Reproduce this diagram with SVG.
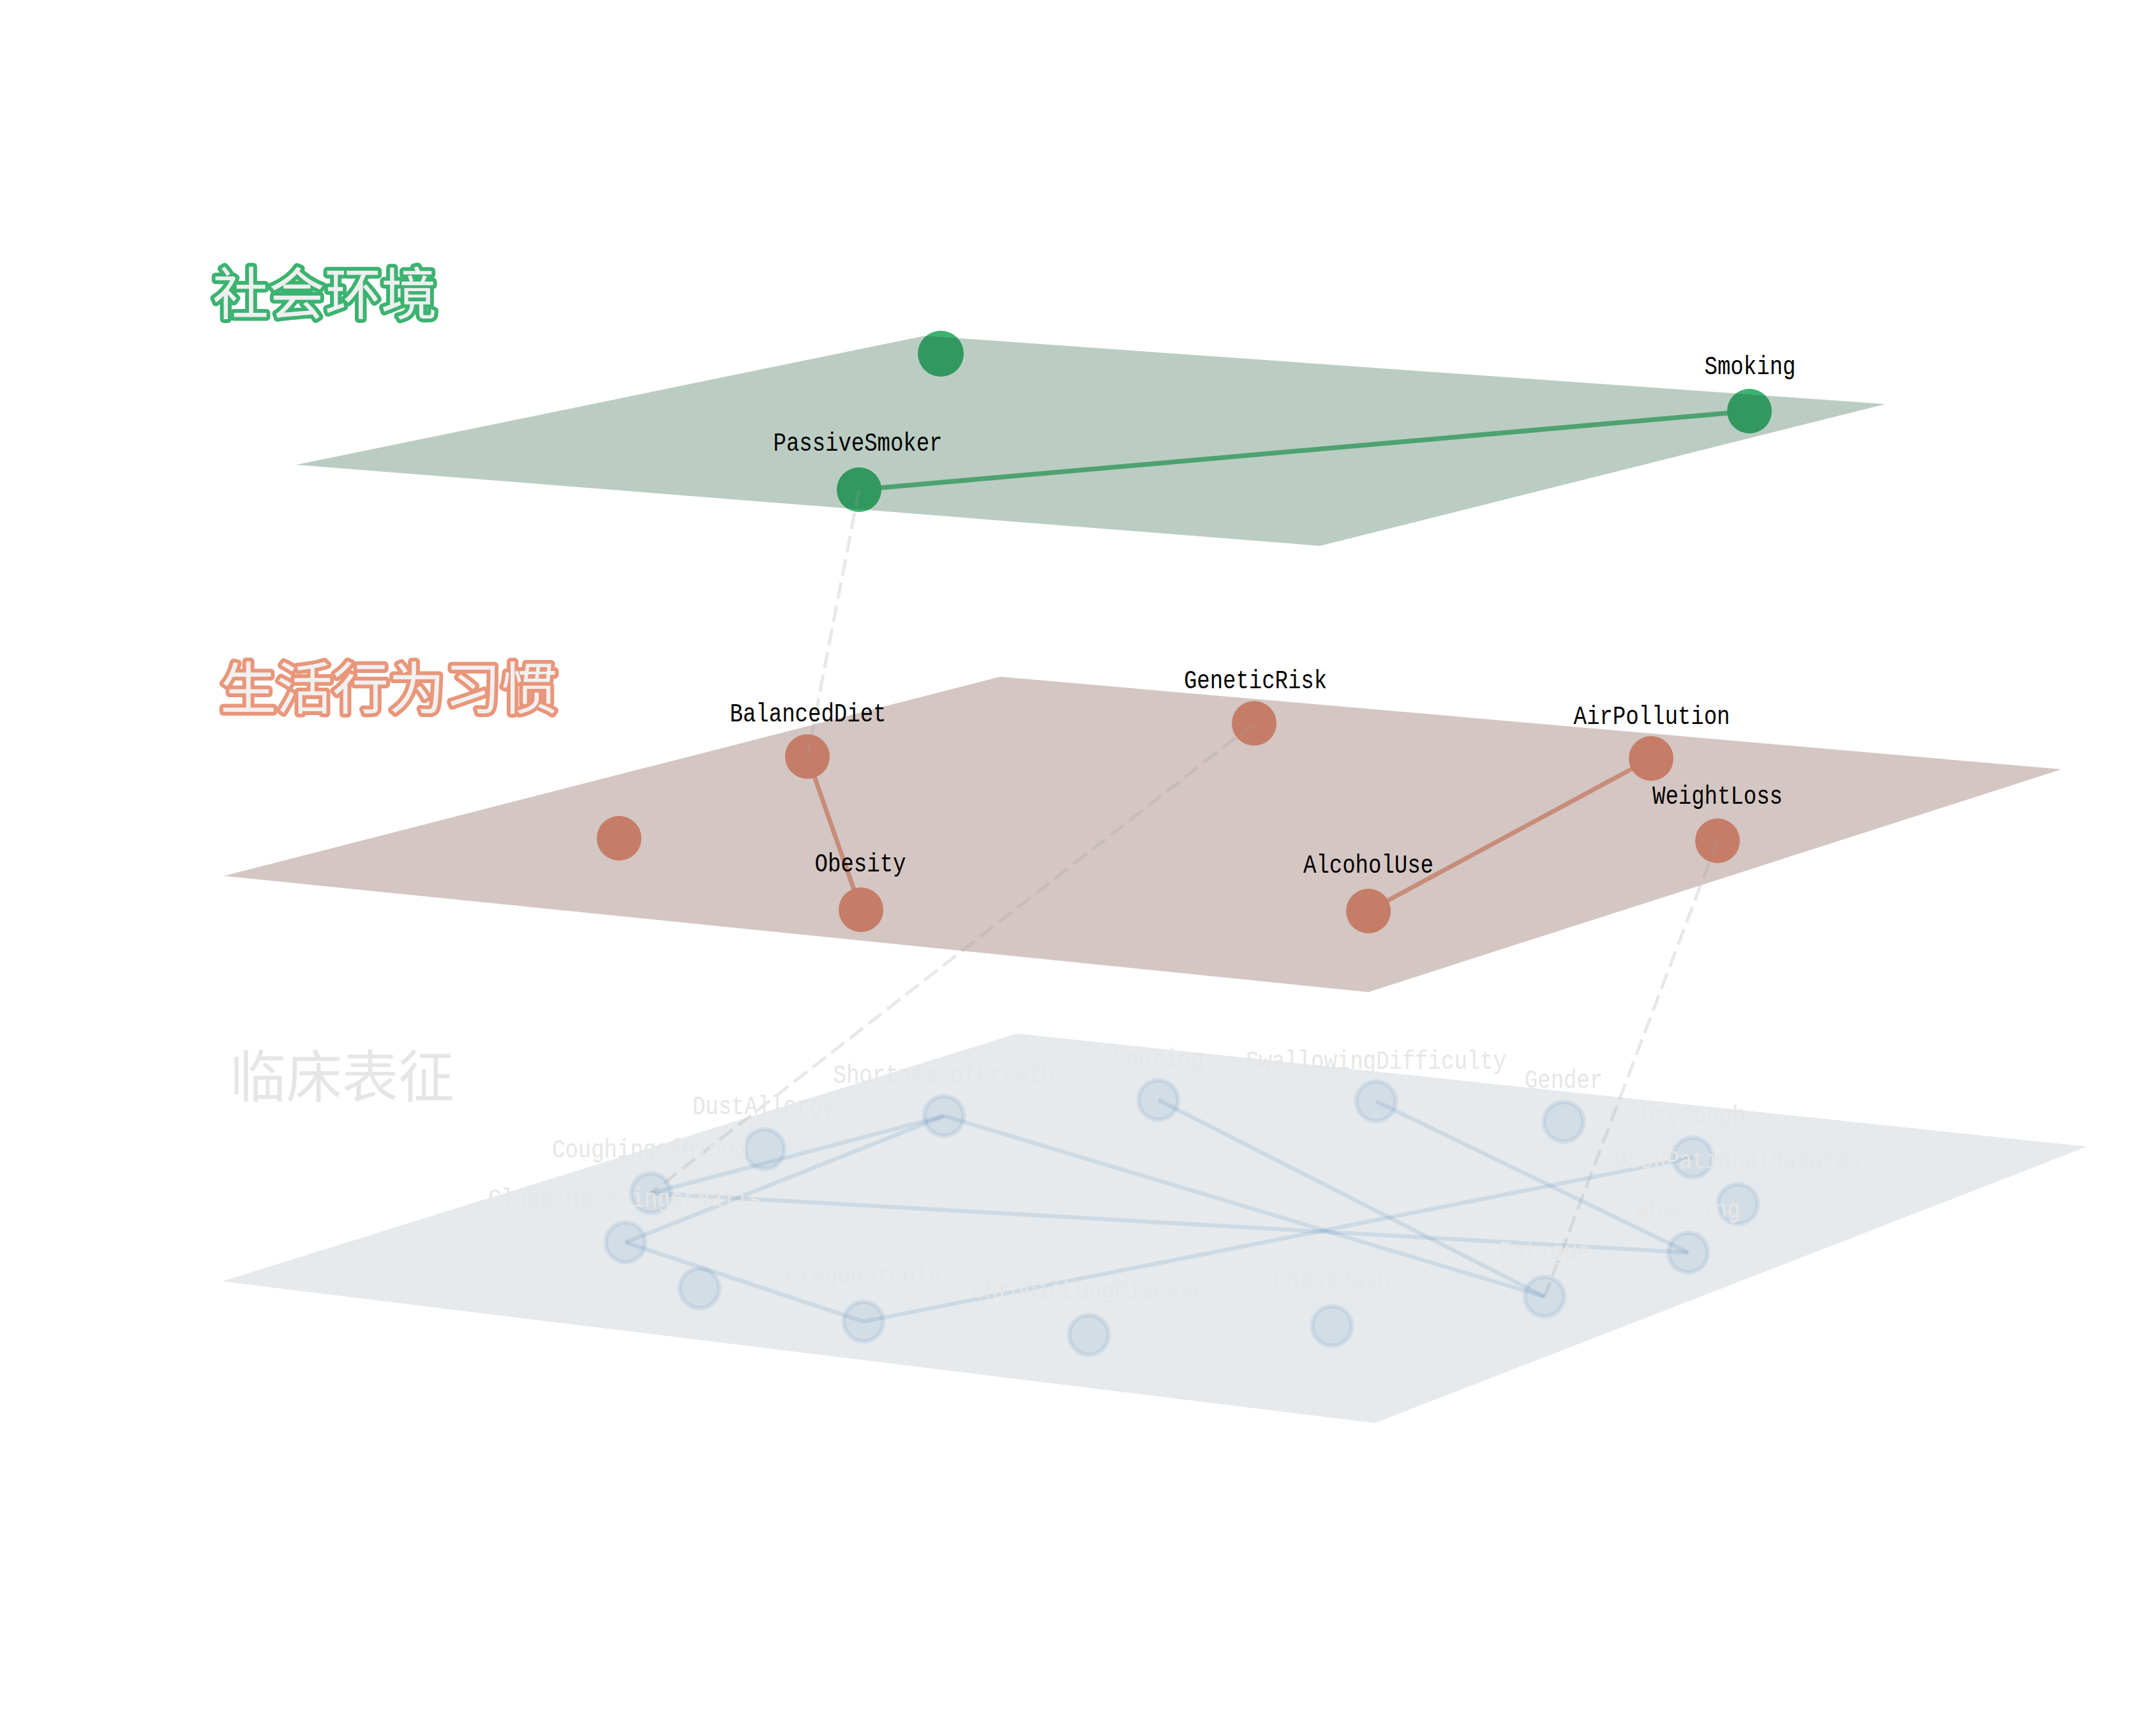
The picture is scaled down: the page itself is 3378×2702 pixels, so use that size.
<svg xmlns="http://www.w3.org/2000/svg" width="3378" height="2702" viewBox="0 0 3378 2702">
<style>
.title{font-family:"Noto Sans CJK SC","Noto Sans",sans-serif;font-size:88px;paint-order:stroke fill;stroke-linejoin:round}
.lbl{font-family:"Liberation Mono","DejaVu Sans Mono",monospace;font-size:40px;text-anchor:middle;fill:#000000}
.lbl3{font-family:"Liberation Mono","DejaVu Sans Mono",monospace;font-size:40px;text-anchor:middle;fill:#e6e6e6}
.n1{fill:#3cb371}
.n2{fill:#e9967a}
.n3{fill:#4682b4;fill-opacity:0.12;stroke:#4682b4;stroke-opacity:0.12;stroke-width:7}
.e1{stroke:#3cb371;stroke-opacity:0.8;stroke-width:7.5;fill:none}
.e2{stroke:#e9967a;stroke-opacity:0.8;stroke-width:7;fill:none}
.e3{stroke:#4682b4;stroke-opacity:0.15;stroke-width:6.5;fill:none}
.dash{stroke:#9f9f9f;stroke-opacity:0.24;stroke-width:5;stroke-dasharray:26 11;fill:none}
</style>
<rect x="0" y="0" width="3378" height="2702" fill="#ffffff"/>

<!-- bottom layer plane -->
<g id="plane-clinical">
<polygon points="348,2007 1593,1619 3270,1796 2154,2229" fill="#e6eaed"/>
</g>
<g id="nodes-clinical">
<g id="node-DustAllergy"><circle class="n3" cx="1198" cy="1800" r="31"/></g>
<g id="node-CoughingofBlood"><circle class="n3" cx="1020" cy="1869" r="31"/></g>
<g id="node-ClubbingofFingerNails"><circle class="n3" cx="980" cy="1946" r="31"/></g>
<g id="node-clinical-unlabeled"><circle class="n3" cx="1096" cy="2018" r="31"/></g>
<g id="node-FrequentCold"><circle class="n3" cx="1353" cy="2070" r="31"/></g>
<g id="node-ShortnessofBreath"><circle class="n3" cx="1479" cy="1748" r="31"/></g>
<g id="node-Snoring"><circle class="n3" cx="1815" cy="1723" r="31"/></g>
<g id="node-chronicLungDisease"><circle class="n3" cx="1706" cy="2091" r="31"/></g>
<g id="node-ChestPain"><circle class="n3" cx="2087" cy="2077" r="31"/></g>
<g id="node-SwallowingDifficulty"><circle class="n3" cx="2156" cy="1725" r="31"/></g>
<g id="node-Gender"><circle class="n3" cx="2450" cy="1757" r="31"/></g>
<g id="node-DryCough"><circle class="n3" cx="2652" cy="1813" r="31"/></g>
<g id="node-OccuPationalHazards"><circle class="n3" cx="2723" cy="1886" r="31"/></g>
<g id="node-Wheezing"><circle class="n3" cx="2645" cy="1962" r="31"/></g>
<g id="node-Fatigue"><circle class="n3" cx="2420" cy="2031" r="31"/></g>
</g>

<g id="connectors">
<g id="edges-clinical">
<line class="e3" x1="1020" y1="1869" x2="1479" y2="1748"/>
<line class="e3" x1="980" y1="1946" x2="1479" y2="1748"/>
<line class="e3" x1="1020" y1="1869" x2="2645" y2="1962"/>
<line class="e3" x1="980" y1="1946" x2="1353" y2="2070"/>
<line class="e3" x1="1353" y1="2070" x2="2652" y2="1813"/>
<line class="e3" x1="1479" y1="1748" x2="2420" y2="2031"/>
<line class="e3" x1="1815" y1="1723" x2="2420" y2="2031"/>
<line class="e3" x1="2156" y1="1725" x2="2645" y2="1962"/>
</g>
<g id="edges-lifestyle">
<line class="e2" x1="1265" y1="1185" x2="1349" y2="1425"/>
<line class="e2" x1="2144" y1="1427" x2="2587" y2="1188"/>
</g>
<g id="edges-social">
<line class="e1" x1="1346" y1="767" x2="2741" y2="644"/>
</g>
</g>

<g id="nodes-lifestyle">
<g id="node-BalancedDiet"><circle class="n2" cx="1265" cy="1185" r="35"/></g>
<g id="node-lifestyle-unlabeled"><circle class="n2" cx="970" cy="1313" r="35"/></g>
<g id="node-Obesity"><circle class="n2" cx="1349" cy="1425" r="35"/></g>
<g id="node-GeneticRisk"><circle class="n2" cx="1965" cy="1133" r="35"/></g>
<g id="node-AirPollution"><circle class="n2" cx="2587" cy="1188" r="35"/></g>
<g id="node-WeightLoss"><circle class="n2" cx="2691" cy="1317" r="35"/></g>
<g id="node-AlcoholUse"><circle class="n2" cx="2144" cy="1427" r="35"/></g>
</g>
<g id="plane-lifestyle">
<polygon points="351,1372 1567,1060 3230,1205 2144,1554" fill="rgb(116,71,61)" fill-opacity="0.31"/>
</g>

<g id="nodes-social">
<g id="node-social-unlabeled"><circle class="n1" cx="1474" cy="554" r="36"/></g>
<g id="node-PassiveSmoker"><circle class="n1" cx="1346" cy="767" r="35"/></g>
<g id="node-Smoking"><circle class="n1" cx="2741" cy="644" r="35"/></g>
</g>
<g id="plane-social">
<polygon points="464,728 1449,526 2954,633 2068,855" fill="rgb(30,88,52)" fill-opacity="0.3"/>
</g>

<g id="connectors-interlayer">
<line class="dash" x1="1346" y1="767" x2="1265" y2="1185"/>
<line class="dash" x1="1965" y1="1133" x2="1020" y2="1869"/>
<line class="dash" x1="2691" y1="1317" x2="2420" y2="2031"/>
</g>

<g id="labels-social">
<text class="lbl" x="1344" y="706" textLength="265" lengthAdjust="spacingAndGlyphs">PassiveSmoker</text>
<text class="lbl" x="2742" y="586" textLength="143" lengthAdjust="spacingAndGlyphs">Smoking</text>
</g>
<g id="labels-lifestyle">
<text class="lbl" x="1266" y="1130" textLength="245" lengthAdjust="spacingAndGlyphs">BalancedDiet</text>
<text class="lbl" x="1967" y="1078" textLength="224" lengthAdjust="spacingAndGlyphs">GeneticRisk</text>
<text class="lbl" x="2588" y="1134" textLength="245" lengthAdjust="spacingAndGlyphs">AirPollution</text>
<text class="lbl" x="2691" y="1259" textLength="204" lengthAdjust="spacingAndGlyphs">WeightLoss</text>
<text class="lbl" x="2144" y="1367" textLength="204" lengthAdjust="spacingAndGlyphs">AlcoholUse</text>
<text class="lbl" x="1348" y="1365" textLength="143" lengthAdjust="spacingAndGlyphs">Obesity</text>
</g>
<g id="labels-clinical">
<text class="lbl3" x="1197" y="1745" textLength="224" lengthAdjust="spacingAndGlyphs">DustAllergy</text>
<text class="lbl3" x="1018" y="1813" textLength="306" lengthAdjust="spacingAndGlyphs">CoughingofBlood</text>
<text class="lbl3" x="979" y="1890" textLength="428" lengthAdjust="spacingAndGlyphs">ClubbingofFingerNails</text>
<text class="lbl3" x="1479" y="1696" textLength="347" lengthAdjust="spacingAndGlyphs">ShortnessofBreath</text>
<text class="lbl3" x="1815" y="1671" textLength="143" lengthAdjust="spacingAndGlyphs">Snoring</text>
<text class="lbl3" x="2156" y="1674" textLength="408" lengthAdjust="spacingAndGlyphs">SwallowingDifficulty</text>
<text class="lbl3" x="2450" y="1704" textLength="122" lengthAdjust="spacingAndGlyphs">Gender</text>
<text class="lbl3" x="2653" y="1760" textLength="163" lengthAdjust="spacingAndGlyphs">DryCough</text>
<text class="lbl3" x="2723" y="1830" textLength="388" lengthAdjust="spacingAndGlyphs">OccuPationalHazards</text>
<text class="lbl3" x="2645" y="1907" textLength="163" lengthAdjust="spacingAndGlyphs">Wheezing</text>
<text class="lbl3" x="2420" y="1973" textLength="143" lengthAdjust="spacingAndGlyphs">Fatigue</text>
<text class="lbl3" x="2087" y="2017" textLength="184" lengthAdjust="spacingAndGlyphs">ChestPain</text>
<text class="lbl3" x="1706" y="2033" textLength="367" lengthAdjust="spacingAndGlyphs">chronicLungDisease</text>
<text class="lbl3" x="1353" y="2012" textLength="245" lengthAdjust="spacingAndGlyphs">FrequentCold</text>
</g>

<g id="layer-titles">
<text class="title" x="333" y="492" fill="#efefef" stroke="#3cb371" stroke-width="12">社会环境</text>
<text class="title" x="345" y="1110" fill="#f0f0f0" stroke="#e9967a" stroke-width="12">生活行为习惯</text>
<text class="title" x="360" y="1718" fill="#e6e6e6">临床表征</text>
</g>
</svg>
